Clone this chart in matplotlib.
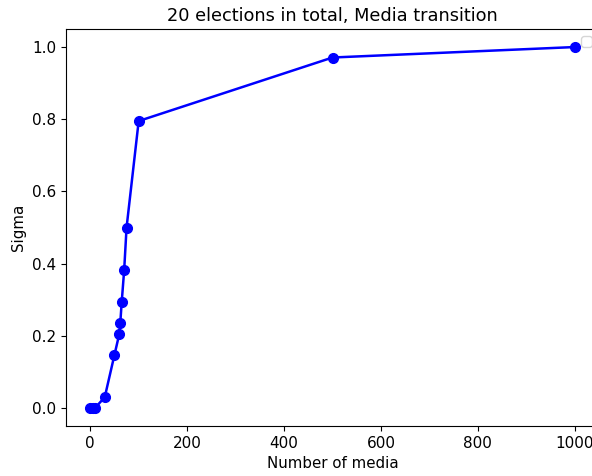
import matplotlib
matplotlib.use("Agg")
import matplotlib.pyplot as plt

n_media = [0, 5, 10, 30, 50, 60, 62, 65, 70, 75, 100, 500, 1000]
sigma = [0.0, 0.0, 0.0, 0.03, 0.147, 0.205, 0.235, 0.294, 0.381, 0.5, 0.795, 0.971, 1.0]

fig = plt.figure(figsize=(5.92, 4.76), dpi=100)
ax = fig.add_axes([66/592, 50/476, 533/592, 397/476])
ax.plot(n_media, sigma, '-o', color='blue', linewidth=1.8, markersize=7)
ax.set_title("20 elections in total, Media transition", fontsize=12.8)
ax.set_xlabel("Number of media", fontsize=10.8)
ax.set_ylabel("Sigma", fontsize=10.8)
ax.tick_params(labelsize=11)
ax.legend(handles=[], loc='upper right')
fig.savefig("out.png", dpi=100)
